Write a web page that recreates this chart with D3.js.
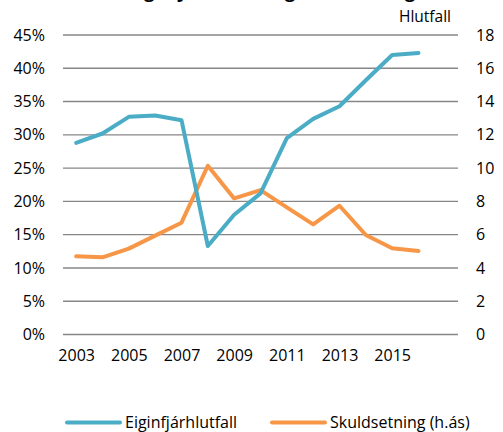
<!DOCTYPE html>
<html>
<head>
<meta charset="utf-8">
<script src="https://cdn.jsdelivr.net/npm/d3@7"></script>
<style>
  html, body { margin: 0; padding: 0; background: #fff; overflow: hidden; }
  text { font-family: "Open Sans", sans-serif; fill: #000; }
</style>
</head>
<body>
<svg id="chart" width="503" height="432"></svg>
<script>
const years = [2003, 2004, 2005, 2006, 2007, 2008, 2009, 2010, 2011, 2012, 2013, 2014, 2015, 2016];
const equityRatio = [28.8, 30.2, 32.7, 32.9, 32.2, 13.3, 18.0, 21.2, 29.5, 32.4, 34.3, 38.2, 42.0, 42.3];
const leverage = [4.70, 4.64, 5.16, 5.94, 6.72, 10.14, 8.18, 8.68, 7.64, 6.62, 7.74, 5.98, 5.18, 5.02];
const leftTicks = [0, 5, 10, 15, 20, 25, 30, 35, 40, 45];
const rightTicks = [0, 2, 4, 6, 8, 10, 12, 14, 16, 18];
const xTickYears = [2003, 2005, 2007, 2009, 2011, 2013, 2015];
const seriesNames = ["Eiginfjárhlutfall", "Skuldsetning (h.ás)"];
const titleText = "Eiginfjárhlutfall og skuldsetning";
const rightAxisTitle = "Hlutfall";

const colors = ["#4BACC6", "#F79646"];
const svg = d3.select("#chart");
const plotLeft = 63, plotRight = 458, plotTop = 35, plotBottom = 334.5;

const x = d3.scaleLinear().domain([2002.5, 2017.5]).range([plotLeft, plotRight]);
const yL = d3.scaleLinear().domain([0, 45]).range([plotBottom, plotTop]);
const yR = d3.scaleLinear().domain([0, 18]).range([plotBottom, plotTop]);

// title (mostly above the visible area, as in the reference)
svg.append("text").attr("x", 272).attr("y", -2.5)
  .attr("text-anchor", "middle").style("font-weight", "bold").style("font-size", "18px")
  .text(titleText);

// gridlines
svg.append("g").selectAll("line").data(leftTicks).join("line")
  .attr("x1", plotLeft).attr("x2", plotRight)
  .attr("y1", d => yL(d)).attr("y2", d => yL(d))
  .attr("stroke", "#878787").attr("stroke-width", 1.4);

// left axis labels
const axL = svg.append("g").attr("transform", `translate(${plotLeft},0)`)
  .call(d3.axisLeft(yL).tickValues(leftTicks).tickFormat(d => d + "%").tickSize(0).tickPadding(18));
axL.select(".domain").remove();
axL.selectAll("text").style("font-size", "16px").style("font-family", "'Open Sans', sans-serif").attr("fill", "#000");

// right axis labels
const axR = svg.append("g").attr("transform", `translate(${plotRight},0)`)
  .call(d3.axisRight(yR).tickValues(rightTicks).tickSize(0).tickPadding(18));
axR.select(".domain").remove();
axR.selectAll("text").style("font-size", "16px").style("font-family", "'Open Sans', sans-serif").attr("fill", "#000");

// x axis labels
const axX = svg.append("g").attr("transform", `translate(0,${plotBottom})`)
  .call(d3.axisBottom(x).tickValues(xTickYears).tickFormat(d3.format("d")).tickSize(0).tickPadding(15));
axX.select(".domain").remove();
axX.selectAll("text").style("font-size", "16px").style("font-family", "'Open Sans', sans-serif").attr("fill", "#000");

// right axis title
svg.append("text").attr("x", 451).attr("y", 22).attr("text-anchor", "end")
  .style("font-size", "15.5px").text(rightAxisTitle);

// lines
const lineL = d3.line().x((d, i) => x(years[i])).y(d => yL(d));
const lineR = d3.line().x((d, i) => x(years[i])).y(d => yR(d));
svg.append("path").datum(leverage).attr("d", lineR)
  .attr("fill", "none").attr("stroke", colors[1]).attr("stroke-width", 4)
  .attr("stroke-linejoin", "round").attr("stroke-linecap", "round");
svg.append("path").datum(equityRatio).attr("d", lineL)
  .attr("fill", "none").attr("stroke", colors[0]).attr("stroke-width", 4)
  .attr("stroke-linejoin", "round").attr("stroke-linecap", "round");

// legend
const legendX = [67, 272];
const lg = svg.append("g").selectAll("g").data(seriesNames).join("g")
  .attr("transform", (d, i) => `translate(${legendX[i]},422.5)`);
lg.append("line").attr("x1", 0).attr("x2", 53).attr("y1", 0).attr("y2", 0)
  .attr("stroke", (d, i) => colors[i]).attr("stroke-width", 4).attr("stroke-linecap", "round");
lg.append("text").attr("x", 58).attr("y", 0).attr("dy", "0.35em")
  .style("font-size", "16px").text(d => d);
</script>
</body>
</html>
